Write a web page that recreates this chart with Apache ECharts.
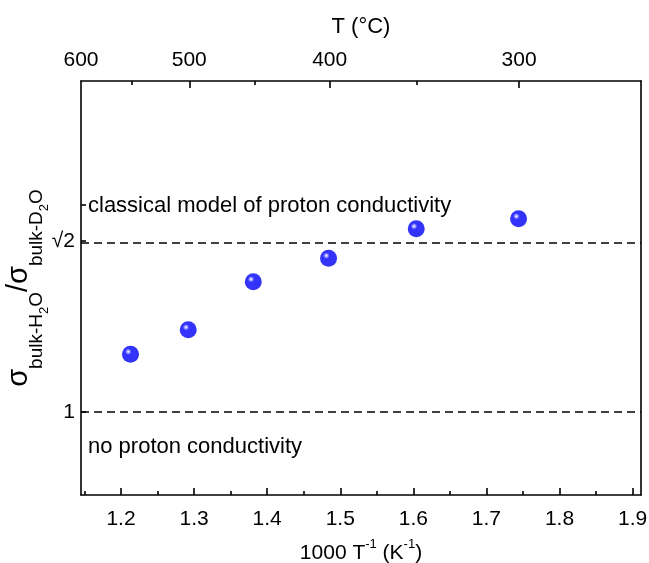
<!DOCTYPE html>
<html>
<head>
<meta charset="utf-8">
<script src="https://cdn.jsdelivr.net/npm/echarts@6/dist/echarts.min.js"></script>
<style>
html,body{margin:0;padding:0;background:#fff;}
#chart{width:649px;height:563px;}
</style>
</head>
<body>
<div id="chart"></div>
<script>
// ---- data ----
const invT = [1.213, 1.292, 1.381, 1.484, 1.604, 1.744];      // 1000/T (K^-1)
const ratio = [1.140, 1.199, 1.315, 1.372, 1.443, 1.467];     // sigma_H2O / sigma_D2O
const bottomTicks = [1.2, 1.3, 1.4, 1.5, 1.6, 1.7, 1.8, 1.9];
const bottomMinor = [1.15, 1.25, 1.35, 1.45, 1.55, 1.65, 1.75, 1.85];
const topLabelsC = [600, 500, 400, 300];
const topMajorC = [500, 400, 300];
const topMinorC = [550, 450, 350];
const refLines = [1, Math.SQRT2];
const yTicks = [1, 1.5, Math.SQRT2];
const xRangeC = [600, 250];
const yRange = [0.8, 1.8];

const toInv = c => 1000 / (c + 273.15);
const xMin = toInv(xRangeC[0]), xMax = toInv(xRangeC[1]);
const FONT = "'Liberation Sans', Arial, sans-serif";

const chart = echarts.init(document.getElementById('chart'), null, {renderer: 'canvas'});
const lineStyle = {color: '#000', width: 1.6};

const option = {
  animation: false,
  backgroundColor: '#fff',
  grid: {left: 81, right: 8, top: 81, bottom: 68, containLabel: false, outerBoundsMode: 'none'},
  xAxis: [
    {
      type: 'value', position: 'bottom', min: xMin, max: xMax,
      axisLine: {show: true, lineStyle: lineStyle},
      axisTick: {show: true, inside: true, length: 7, lineStyle: lineStyle, customValues: bottomTicks},
      axisLabel: {show: true, margin: 14, fontSize: 21, color: '#000', fontFamily: FONT,
        customValues: bottomTicks, formatter: v => v.toFixed(1)},
      splitLine: {show: false},
      name: '{a|1000 T}{s|-1}{a| (K}{s|-1}{a|)}',
      nameLocation: 'middle', nameGap: 43, nameMoveOverlap: false,
      nameTextStyle: {
        rich: {
          a: {fontSize: 21, fontFamily: FONT, color: '#000', lineHeight: 26, verticalAlign: 'bottom'},
          s: {fontSize: 13, fontFamily: FONT, color: '#000', lineHeight: 14, verticalAlign: 'top'}
        }
      }
    },
    {
      type: 'value', position: 'bottom', min: xMin, max: xMax,
      axisLine: {show: false},
      axisTick: {show: true, inside: true, length: 4, lineStyle: lineStyle, customValues: bottomMinor},
      axisLabel: {show: false},
      splitLine: {show: false}
    },
    {
      type: 'value', position: 'top', min: xMin, max: xMax,
      axisLine: {show: true, lineStyle: lineStyle},
      axisTick: {show: true, inside: true, length: 7, lineStyle: lineStyle, customValues: topMajorC.map(toInv)},
      axisLabel: {show: true, margin: 10, fontSize: 21, color: '#000', fontFamily: FONT,
        customValues: topLabelsC.map(toInv), formatter: v => String(Math.round(1000 / v - 273.15))},
      splitLine: {show: false},
      name: 'T (°C)', nameLocation: 'middle', nameGap: 43, nameMoveOverlap: false,
      nameTextStyle: {fontSize: 22, fontFamily: FONT, color: '#000'}
    },
    {
      type: 'value', position: 'top', min: xMin, max: xMax,
      axisLine: {show: false},
      axisTick: {show: true, inside: true, length: 4, lineStyle: lineStyle, customValues: topMinorC.map(toInv)},
      axisLabel: {show: false},
      splitLine: {show: false}
    }
  ],
  yAxis: [
    {
      type: 'value', position: 'left', min: yRange[0], max: yRange[1],
      axisLine: {show: true, lineStyle: lineStyle},
      axisTick: {show: true, inside: true, length: 5, lineStyle: lineStyle, customValues: yTicks},
      axisLabel: {show: true, margin: 6, fontSize: 21, color: '#000', fontFamily: FONT,
        customValues: refLines, formatter: v => (Math.abs(v - 1) < 1e-6 ? '1' : '√2')},
      splitLine: {show: false},
      name: '{s|σ}{b|bulk-H}{c|2}{b|O}{s|/σ}{b|bulk-D}{c|2}{b|O}',
      nameLocation: 'middle', nameRotate: 90, nameGap: 48, nameMoveOverlap: false,
      nameTextStyle: {
        rich: {
          s: {fontSize: 29, fontFamily: FONT, color: '#000', lineHeight: 29, verticalAlign: 'top'},
          b: {fontSize: 19, fontFamily: FONT, color: '#000', lineHeight: 19, verticalAlign: 'top', padding: [23, 0, 0, 0]},
          c: {fontSize: 13, fontFamily: FONT, color: '#000', lineHeight: 13, verticalAlign: 'top', padding: [34, 0, 0, 0]}
        }
      }
    },
    {
      type: 'value', position: 'right', min: yRange[0], max: yRange[1],
      axisLine: {show: true, lineStyle: lineStyle},
      axisTick: {show: false}, axisLabel: {show: false}, splitLine: {show: false}
    }
  ],
  graphic: [
    {type: 'text', x: 88, y: 206, style: {text: 'classical model of proton conductivity', font: '22px ' + FONT, fill: '#000', verticalAlign: 'middle', align: 'left'}},
    {type: 'text', x: 88, y: 447, style: {text: 'no proton conductivity', font: '22px ' + FONT, fill: '#000', verticalAlign: 'middle', align: 'left'}}
  ],
  series: [
    {
      type: 'scatter', xAxisIndex: 0, yAxisIndex: 0,
      data: invT.map((x, i) => [x, ratio[i]]),
      symbol: 'circle', symbolSize: 17,
      itemStyle: {
        color: {type: 'radial', x: 0.37, y: 0.35, r: 0.62, colorStops: [
          {offset: 0, color: '#ffffff'},
          {offset: 0.1, color: '#b0b0ff'},
          {offset: 0.3, color: '#0000ff'},
          {offset: 1, color: '#0000f2'}
        ]}
      },
      markLine: {
        silent: true, symbol: ['none', 'none'],
        label: {show: false},
        lineStyle: {color: '#000', width: 1.5, type: [8, 5]},
        data: refLines.map(v => ({yAxis: v}))
      },
      z: 5
    }
  ]
};
chart.setOption(option);
</script>
</body>
</html>
